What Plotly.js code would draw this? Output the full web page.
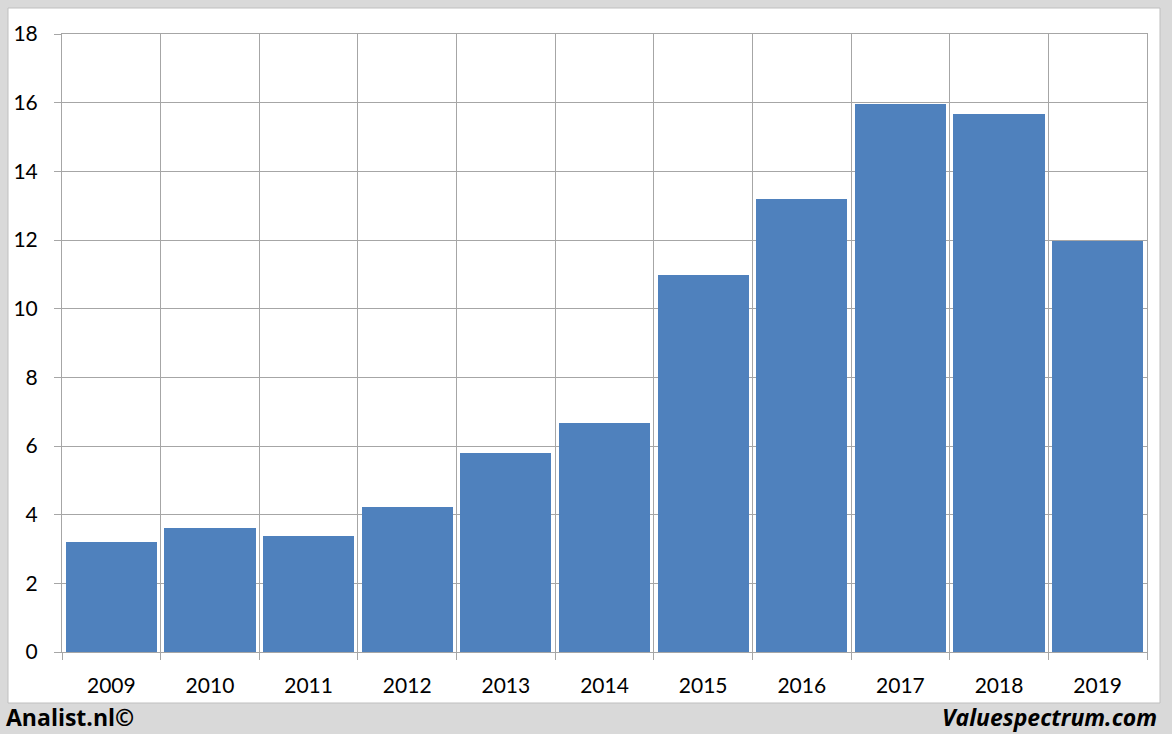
<!DOCTYPE html>
<html>
<head>
<meta charset="utf-8">
<script src="https://cdn.plot.ly/plotly-3.0.1.min.js"></script>
<style>html,body{margin:0;padding:0;background:#d9d9d9;}#chart{width:1172px;height:734px;}</style>
</head>
<body>
<div id="chart"></div>
<script>
const years = ['2009','2010','2011','2012','2013','2014','2015','2016','2017','2018','2019'];
const values = [3.2, 3.61, 3.38, 4.22, 5.8, 6.67, 10.98, 13.2, 15.96, 15.67, 11.97];
const yTicks = [0, 2, 4, 6, 8, 10, 12, 14, 16, 18];

const boundaries = [];
for (let i = 0; i <= years.length; i++) boundaries.push(i - 0.5);

const font = "Lato, 'Liberation Sans', sans-serif";
const footFont = "'Open Sans', 'Liberation Sans', sans-serif";
const gridCol = '#a6a6a6';

const traces = [
  {
    type: 'bar',
    x: years,
    y: values,
    width: 0.925,
    marker: {color: '#4f81bd', line: {width: 0}},
    hoverinfo: 'x+y'
  },
  {
    type: 'scatter',
    x: [boundaries[0], boundaries[boundaries.length - 1]],
    y: [0, 0],
    xaxis: 'x2',
    mode: 'lines',
    line: {color: 'rgba(0,0,0,0)'},
    hoverinfo: 'skip',
    showlegend: false
  }
];

const layout = {
  width: 1172,
  height: 734,
  margin: {l: 62, r: 25, t: 34, b: 82},
  paper_bgcolor: '#d9d9d9',
  plot_bgcolor: '#ffffff',
  showlegend: false,
  bargap: 0,
  xaxis: {
    type: 'category',
    range: [-0.5, years.length - 0.5],
    showgrid: false,
    zeroline: false,
    showline: true,
    mirror: true,
    linecolor: gridCol,
    linewidth: 1,
    ticks: '',
    ticklabelstandoff: 15,
    tickfont: {family: font, size: 21, color: '#000'},
    fixedrange: true
  },
  xaxis2: {
    overlaying: 'x',
    type: 'linear',
    range: [boundaries[0], boundaries[boundaries.length - 1]],
    tickvals: boundaries,
    showticklabels: false,
    showgrid: true,
    gridcolor: gridCol,
    gridwidth: 1,
    ticks: 'outside',
    ticklen: 7,
    tickcolor: gridCol,
    zeroline: false,
    showline: false,
    side: 'bottom',
    anchor: 'y'
  },
  yaxis: {
    range: [0, 18],
    tickvals: yTicks,
    showgrid: true,
    gridcolor: gridCol,
    gridwidth: 1,
    zeroline: false,
    showline: true,
    mirror: true,
    linecolor: gridCol,
    linewidth: 1,
    ticks: 'outside',
    ticklen: 7,
    tickcolor: gridCol,
    ticklabelstandoff: 12,
    tickfont: {family: font, size: 21, color: '#000'},
    fixedrange: true
  },
  shapes: [
    {
      type: 'rect', xref: 'paper', yref: 'paper', layer: 'below',
      x0: (8 - 62) / 1085, x1: (1160 - 62) / 1085,
      y0: (652 - 703) / 618, y1: (652 - 8) / 618,
      fillcolor: '#ffffff',
      line: {color: '#bfbfbf', width: 1}
    }
  ],
  annotations: [
    {
      xref: 'paper', yref: 'paper',
      x: (4 - 62) / 1085, y: (652 - 717) / 618,
      xanchor: 'left', yanchor: 'middle',
      text: '<b>Analist.nl©</b>', showarrow: false,
      font: {family: footFont, size: 23, color: '#000'}
    },
    {
      xref: 'paper', yref: 'paper',
      x: (1159 - 62) / 1085, y: (652 - 717) / 618,
      xanchor: 'right', yanchor: 'middle',
      text: '<b><i>Valuespectrum.com</i></b>', showarrow: false,
      font: {family: footFont, size: 23, color: '#000'}
    }
  ]
};

Plotly.newPlot('chart', traces, layout, {displayModeBar: false, staticPlot: true});
</script>
</body>
</html>
